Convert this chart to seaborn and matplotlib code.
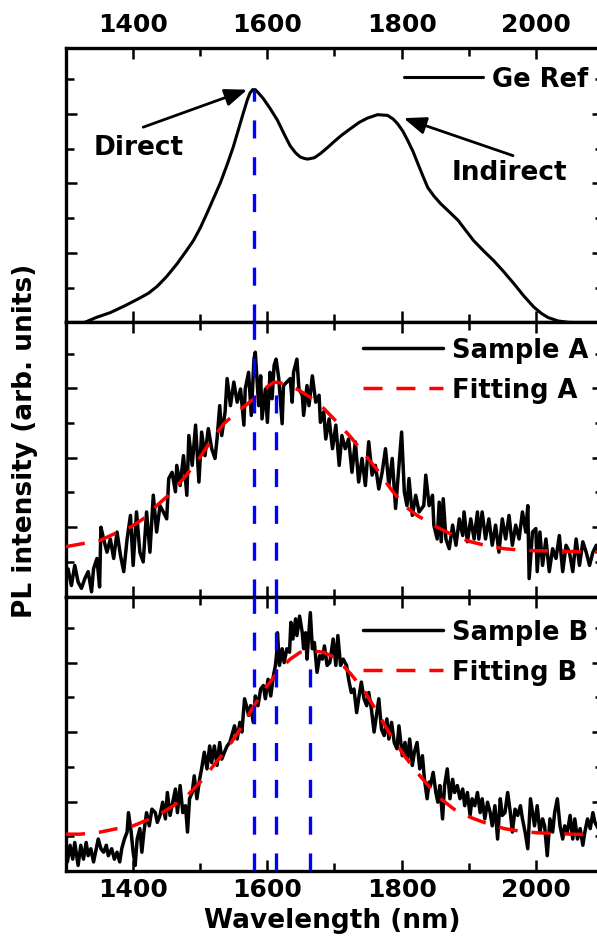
import seaborn as sns
import matplotlib.pyplot as plt
from matplotlib.ticker import MultipleLocator

# Ge reference spectrum (top panel)
ge_wl = [1310, 1328, 1345, 1366, 1388, 1410, 1423, 1436, 1450, 1466, 1480, 1490, 1500, 1510,
         1520, 1530, 1540, 1549, 1557, 1564, 1570, 1574, 1578, 1582, 1586, 1594, 1604, 1615,
         1625, 1634, 1642, 1649, 1655, 1660, 1670, 1679, 1690, 1698, 1710, 1724, 1737, 1749,
         1764, 1779, 1787, 1794, 1802, 1809, 1817, 1824, 1832, 1839, 1848, 1858, 1870, 1884,
         1895, 1907, 1922, 1937, 1952, 1967, 1982, 1997, 2008, 2018, 2033, 2048, 2100]
ge_int = [-0.10, 0.00, 0.07, 0.14, 0.24, 0.35, 0.42, 0.52, 0.66, 0.85, 1.04, 1.18, 1.36, 1.57,
          1.79, 2.01, 2.27, 2.52, 2.78, 3.01, 3.20, 3.30, 3.35, 3.35, 3.31, 3.22, 3.08, 2.91,
          2.71, 2.54, 2.44, 2.38, 2.36, 2.35, 2.37, 2.43, 2.52, 2.59, 2.69, 2.79, 2.88, 2.94,
          2.99, 2.98, 2.93, 2.86, 2.75, 2.62, 2.46, 2.29, 2.10, 1.94, 1.82, 1.71, 1.60, 1.47,
          1.33, 1.18, 1.03, 0.89, 0.73, 0.56, 0.38, 0.22, 0.13, 0.07, 0.02, 0.00, -0.02]

# Sample A (middle panel)
a_wl = [1298, 1303, 1308, 1313, 1318, 1323, 1328, 1333, 1338, 1341, 1346, 1350, 1352, 1356,
        1361, 1366, 1371, 1376, 1381, 1386, 1391, 1396, 1400, 1405, 1410, 1415, 1420, 1425,
        1430, 1435, 1440, 1445, 1450, 1453, 1458, 1463, 1465, 1470, 1475, 1480, 1483, 1488,
        1493, 1498, 1502, 1507, 1512, 1517, 1522, 1525, 1529, 1532, 1537, 1540, 1545, 1550,
        1555, 1560, 1565, 1567, 1572,
        1576, 1580, 1582, 1587, 1590, 1592, 1597, 1600, 1604, 1607, 1610, 1613, 1617, 1622,
        1624, 1629, 1634, 1637, 1639, 1644, 1647, 1652, 1654, 1659, 1662, 1667, 1672, 1677,
        1679, 1684, 1687, 1692, 1697, 1702, 1707, 1711, 1716, 1721, 1726, 1731, 1736, 1741,
        1746, 1751, 1756, 1761, 1766, 1771, 1776, 1781, 1786, 1791, 1796, 1800, 1804, 1808,
        1811, 1816, 1821, 1826,
        1833, 1836, 1841, 1846, 1848, 1853, 1856, 1859, 1862, 1866, 1871, 1876, 1881, 1886,
        1891, 1893, 1898, 1903, 1908, 1913, 1915, 1920, 1925, 1930, 1935, 1940, 1945, 1950,
        1955, 1960, 1965, 1970, 1975, 1980, 1985, 1988, 1990, 1995, 2000, 2002, 2006, 2010,
        2015, 2020, 2025, 2030, 2035, 2040, 2045, 2050, 2055, 2060, 2065, 2070, 2075, 2080,
        2085, 2090, 2093]
a_int = [0.16, 0.40, 0.16, 0.45, 0.21, 0.12, 0.26, 0.36, 0.07, 0.40, 0.55, 0.14, 1.00, 0.83,
         0.64, 0.83, 0.55, 0.93, 0.60, 0.36, 0.83, 1.17, 0.45, 1.22, 0.64, 0.50, 1.22, 0.64,
         1.46, 0.93, 1.31, 1.22, 1.12, 1.70, 1.79, 1.51, 1.89, 1.60, 2.03, 1.46, 2.32, 1.89,
         2.47, 1.65, 2.37, 2.03, 2.42, 2.13, 1.99, 2.27, 2.75, 2.32, 2.66, 3.14, 2.75, 3.09,
         2.80, 2.99, 2.47, 2.99, 3.23,
         2.61, 3.42, 3.52, 2.75, 3.18, 2.56, 2.99, 2.51, 3.23, 2.85, 3.33, 3.42, 3.14, 2.49,
         3.04, 3.09, 3.14, 2.80, 3.23, 3.42, 2.99, 2.90, 2.61, 3.04, 2.75, 3.18, 2.80, 2.90,
         2.51, 2.66, 2.27, 2.56, 2.13, 2.47, 1.89, 2.32, 2.13, 2.27, 1.79, 2.23, 1.65, 1.99,
         1.60, 2.23, 1.75, 1.89, 1.55, 1.79, 2.13, 1.60, 1.99, 1.27, 1.89, 2.37, 1.51, 1.31,
         1.70, 1.17, 1.46, 1.22,
         1.31, 1.75, 1.31, 1.46, 1.03, 0.83, 1.36, 0.79, 1.41, 0.83, 0.69, 1.03, 0.74, 1.12,
         0.88, 1.22, 0.79, 1.12, 0.83, 1.22, 0.83, 1.22, 0.83, 1.12, 0.74, 1.03, 0.64, 1.12,
         0.83, 1.17, 0.74, 1.03, 0.83, 1.22, 0.93, 1.31, 0.26, 0.93, 0.98, 0.36, 0.93, 0.45,
         0.83, 0.36, 0.69, 0.55, 0.88, 0.36, 0.74, 0.64, 0.36, 0.83, 0.45, 0.79, 0.64, 0.45,
         0.64, 0.74, 0.64]

fit_a_wl = [1300, 1351, 1373, 1396, 1415, 1435, 1455, 1475, 1495, 1515, 1535, 1555, 1580,
            1595, 1610, 1624, 1644, 1664, 1684, 1704, 1724, 1744, 1764, 1784, 1804, 1823,
            1853, 1878, 1903, 1928, 1953, 1978, 2002, 2027, 2052, 2100]
fit_a_int = [0.72, 0.81, 0.91, 1.00, 1.12, 1.31, 1.48, 1.70, 1.94, 2.23, 2.49, 2.66, 2.85,
             2.99, 3.09, 3.07, 2.99, 2.87, 2.71, 2.51, 2.30, 2.06, 1.82, 1.55, 1.31, 1.17,
             1.00, 0.88, 0.79, 0.73, 0.69, 0.67, 0.66, 0.66, 0.65, 0.64]

# Sample B (bottom panel)
b_wl = [1298, 1302, 1306, 1310, 1313, 1318, 1322, 1326, 1330, 1333, 1337, 1341, 1345, 1348,
        1352, 1356, 1360, 1363, 1368, 1372, 1376, 1380, 1383, 1387, 1391, 1393, 1397, 1400,
        1403, 1406, 1410, 1413, 1416, 1420, 1424, 1428, 1433, 1436, 1440, 1444, 1448, 1451,
        1455, 1459, 1463, 1466, 1470, 1474, 1478, 1481, 1484, 1488, 1491, 1495, 1499, 1502,
        1506, 1510, 1514, 1517, 1521, 1525, 1529, 1532, 1536, 1540, 1544, 1547, 1551, 1555,
        1559, 1562, 1566, 1570, 1572,
        1575, 1579, 1582, 1586, 1590, 1594, 1597, 1601, 1605, 1609, 1612, 1614, 1615, 1618,
        1622, 1625, 1629, 1633, 1635, 1638, 1642, 1644, 1648, 1652, 1654, 1657, 1659, 1664,
        1667, 1670, 1674, 1678, 1682, 1685, 1689, 1693, 1698, 1702, 1705, 1709, 1713, 1718,
        1721, 1725, 1729, 1733, 1736, 1740, 1744, 1748, 1751, 1755, 1759, 1763, 1766, 1770,
        1774, 1778, 1781, 1785, 1789, 1793, 1796, 1801, 1805, 1809, 1812, 1816, 1819, 1823,
        1827, 1831, 1834, 1838, 1841,
        1843, 1847, 1851, 1854, 1857, 1861, 1864, 1868, 1872, 1876, 1879, 1883, 1887, 1891,
        1894, 1898, 1902, 1905, 1909, 1913, 1917, 1920, 1924, 1928, 1932, 1935, 1939, 1943,
        1947, 1950, 1954, 1958, 1962, 1965, 1969, 1973, 1977, 1980, 1984, 1988, 1992, 1995,
        1998, 2002, 2006, 2010, 2013, 2017, 2021, 2025, 2028, 2032, 2036, 2040, 2043, 2047,
        2051, 2055, 2058, 2062, 2066, 2070, 2073, 2077, 2081, 2085, 2088, 2093]
b_int = [0.46, 0.13, 0.37, 0.17, 0.41, 0.08, 0.37, 0.17, 0.41, 0.22, 0.32, 0.13, 0.32, 0.46,
         0.32, 0.27, 0.37, 0.22, 0.32, 0.17, 0.27, 0.13, 0.32, 0.46, 0.56, 0.84, 0.56, 0.27,
         0.08, 0.46, 0.61, 0.27, 0.56, 0.84, 0.65, 0.89, 0.84, 0.70, 0.80, 0.99, 0.75, 1.13,
         0.80, 0.99, 1.18, 0.84, 1.23, 0.84, 0.94, 0.56, 1.04, 1.13, 1.37, 1.04, 1.32, 1.47,
         1.71, 1.47, 1.80, 1.56, 1.80, 1.52, 1.85, 1.61, 1.71, 1.80, 1.85, 1.95, 2.09, 1.90,
         2.14, 2.00, 2.48, 2.33, 2.24,
         2.38, 2.14, 2.52, 2.38, 2.62, 2.67, 2.48, 2.76, 2.52, 2.81, 2.96, 3.15, 3.43, 2.96,
         3.20, 3.00, 3.20, 3.15, 3.58, 3.34, 3.63, 3.39, 3.67, 3.43, 3.20, 3.43, 3.05, 3.72,
         3.20, 3.29, 2.86, 3.10, 3.05, 3.24, 2.96, 3.00, 3.34, 2.96, 3.39, 2.96, 3.05, 2.96,
         2.76, 2.57, 2.62, 2.28, 2.48, 2.72, 2.48, 2.38, 2.57, 2.33, 2.00, 2.28, 2.48, 2.04,
         1.95, 2.19, 1.90, 2.14, 1.85, 1.76, 2.09, 1.66, 1.85, 1.61, 1.90, 1.52, 1.71, 1.85,
         1.47, 1.66, 1.32, 1.04, 1.28,
         1.23, 1.42, 1.13, 0.99, 1.23, 0.75, 1.23, 1.47, 1.04, 1.32, 1.13, 1.23, 1.04, 1.18,
         0.94, 1.13, 0.80, 1.04, 0.94, 1.13, 0.84, 1.04, 0.75, 0.99, 0.84, 0.65, 0.94, 0.46,
         1.04, 0.80, 0.84, 1.13, 0.84, 0.56, 0.89, 0.80, 0.94, 0.75, 0.56, 0.32, 1.04, 0.84,
         0.65, 0.94, 0.56, 0.75, 0.65, 0.22, 0.75, 0.56, 0.84, 1.04, 0.65, 0.46, 0.65, 0.56,
         0.80, 0.46, 0.75, 0.46, 0.61, 0.37, 0.56, 0.75, 0.61, 0.84, 0.70, 0.61]

fit_b_wl = [1300, 1321, 1351, 1376, 1400, 1420, 1440, 1460, 1480, 1500, 1520, 1540, 1560,
            1580, 1600, 1619, 1634, 1649, 1664, 1684, 1704, 1724, 1744, 1764, 1784, 1804,
            1823, 1853, 1878, 1903, 1928, 1953, 1978, 2002, 2027, 2052, 2100]
fit_b_int = [0.53, 0.53, 0.56, 0.61, 0.65, 0.73, 0.82, 0.94, 1.08, 1.28, 1.52, 1.76, 2.05,
             2.38, 2.67, 2.91, 3.05, 3.15, 3.17, 3.15, 3.05, 2.84, 2.60, 2.28, 1.95, 1.66,
             1.42, 1.08, 0.89, 0.77, 0.68, 0.61, 0.57, 0.55, 0.54, 0.53, 0.52]

# peak positions (nm) and the height where each dashed marker starts
peak_direct, peak_direct_top = 1580, 3.35
peak_a, peak_a_top = 1613, 3.09
peak_b, peak_b_top = 1663, 3.17

YMAX = 3.95

sns.set_theme(style='ticks', rc={'axes.edgecolor': 'black', 'xtick.color': 'black',
                                 'ytick.color': 'black', 'text.color': 'black'})
plt.rcParams['font.family'] = ['DejaVu Sans']
plt.rcParams['font.weight'] = 'bold'
plt.rcParams['lines.scale_dashes'] = False

fig, axes = plt.subplots(3, 1, figsize=(5.97, 9.37), dpi=100, sharex=True)
fig.subplots_adjust(left=0.1106, right=1.01, top=0.9477, bottom=0.0694, hspace=0)
ax0, ax1, ax2 = axes

fit_ls = (0, (13.7, 10))
blue_ls = (0, (13, 13.5))

# top: Ge reference
sns.lineplot(x=ge_wl, y=ge_int, ax=ax0, color='black', lw=2.2, estimator=None,
             label='Ge Ref', zorder=2)
ax0.vlines(peak_direct, 0, peak_direct_top, colors='#0000ff', linestyles=[blue_ls], lw=2.4, zorder=5)

# middle: sample A
sns.lineplot(x=a_wl, y=a_int, ax=ax1, color='black', lw=2.5, estimator=None,
             label='Sample A', zorder=2)
sns.lineplot(x=fit_a_wl, y=fit_a_int, ax=ax1, color='#ff0000', lw=2.5, estimator=None,
             linestyle=fit_ls, label='Fitting A', zorder=3)
ax1.vlines(peak_direct, 0, YMAX, colors='#0000ff', linestyles=[blue_ls], lw=2.4, zorder=5)
ax1.vlines(peak_a, 0, peak_a_top, colors='#0000ff', linestyles=[blue_ls], lw=2.4, zorder=5)

# bottom: sample B
sns.lineplot(x=b_wl, y=b_int, ax=ax2, color='black', lw=2.5, estimator=None,
             label='Sample B', zorder=2)
sns.lineplot(x=fit_b_wl, y=fit_b_int, ax=ax2, color='#ff0000', lw=2.5, estimator=None,
             linestyle=fit_ls, label='Fitting B', zorder=3)
for x in (peak_direct, peak_a):
    ax2.vlines(x, 0, YMAX, colors='#0000ff', linestyles=[blue_ls], lw=2.4, zorder=5)
ax2.vlines(peak_b, 0, peak_b_top, colors='#0000ff', linestyles=[blue_ls], lw=2.4, zorder=5)

for ax in axes:
    ax.set_xlim(1300, 2100)
    ax.set_ylim(0, YMAX)
    ax.xaxis.set_major_locator(MultipleLocator(200))
    ax.xaxis.set_minor_locator(MultipleLocator(100))
    ax.yaxis.set_major_locator(MultipleLocator(1))
    ax.yaxis.set_minor_locator(MultipleLocator(0.5))
    ax.tick_params(which='both', direction='in', top=True, right=True, width=1.8,
                   labelleft=False, labelbottom=False, labeltop=False)
    ax.tick_params(which='major', length=8)
    ax.tick_params(which='minor', length=6)
    ax.set_xlabel('')
    ax.set_ylabel('')
    for sp in ax.spines.values():
        sp.set_linewidth(2.4)

ax0.tick_params(axis='x', labeltop=True, labelsize=18, pad=9)
ax2.tick_params(axis='x', labelbottom=True, labelsize=18, pad=4.5)

leg_kw = dict(loc='upper left', frameon=False, fontsize=18.5, handlelength=3.1,
              handletextpad=0.35, borderpad=0, borderaxespad=0, labelspacing=0.55)
ax0.legend(bbox_to_anchor=(0.629, 0.934), **leg_kw)
ax1.legend(bbox_to_anchor=(0.553, 0.946), **leg_kw)
ax2.legend(bbox_to_anchor=(0.553, 0.919), **leg_kw)

# peak annotations on the reference
arrow = dict(arrowstyle='-|>,head_length=0.9,head_width=0.35', color='black', lw=2,
             mutation_scale=15, shrinkA=0, shrinkB=0)
ax0.text(1409, 2.52, 'Direct', ha='center', va='center', fontsize=19)
ax0.annotate('', xy=(1570, 3.35), xytext=(1415, 2.81), arrowprops=arrow)
ax0.text(1961, 2.16, 'Indirect', ha='center', va='center', fontsize=19)
ax0.annotate('', xy=(1803, 2.94), xytext=(1966, 2.40), arrowprops=arrow)

fig.text(0.042, 0.530, 'PL intensity (arb. units)', rotation=90, ha='center', va='center',
         fontsize=19)
fig.text(0.556, 0.0171, 'Wavelength (nm)', ha='center', va='center', fontsize=19)

fig.savefig('out.png', dpi=100)
